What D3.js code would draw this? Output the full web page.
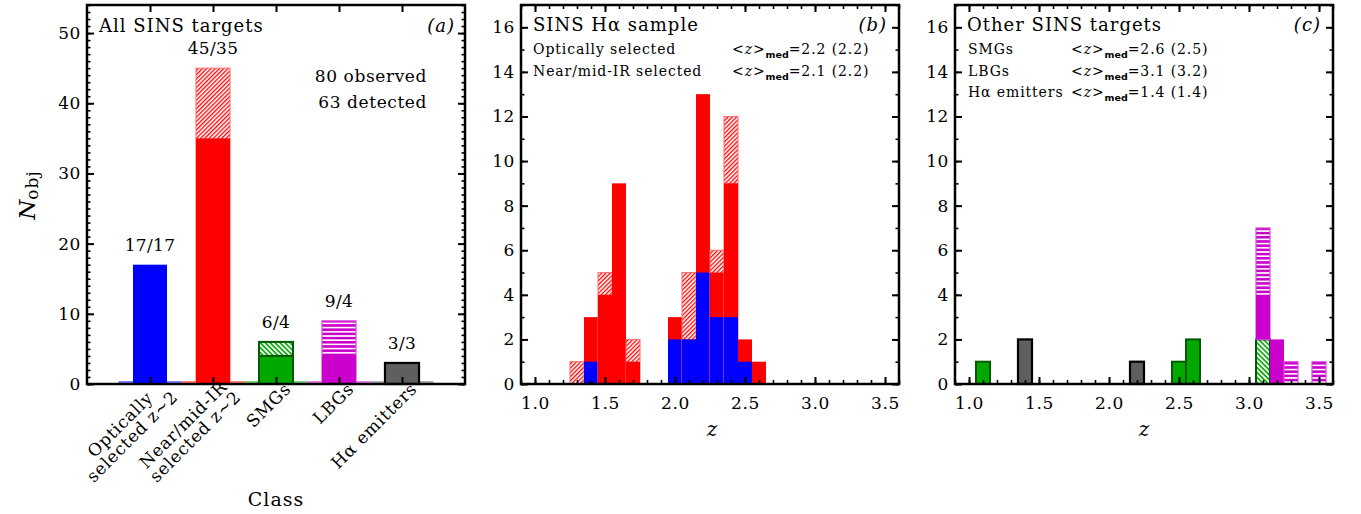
<!DOCTYPE html>
<html>
<head>
<meta charset="utf-8">
<script src="https://cdn.jsdelivr.net/npm/d3@7"></script>
<style>
  body { margin: 0; background: #fff; }
  text { font-family: "DejaVu Serif", serif; fill: #000; }
</style>
</head>
<body>
<svg id="chart" width="1361" height="514"></svg>
<script>
// ---- data ----
const classNames = [['Optically', 'selected z~2'], ['Near/mid-IR', 'selected z~2'], ['SMGs'], ['LBGs'], ['Hα emitters']];
const classObserved = [17, 45, 6, 9, 3];
const classDetected = [17, 35, 4, 4, 3];

// panel (b): SINS Halpha sample, bins of width 0.1
const hBins = [1.3, 1.4, 1.5, 1.6, 1.7, 2.0, 2.1, 2.2, 2.3, 2.4, 2.5, 2.6];
const hAllObserved = [1, 3, 5, 9, 2, 3, 5, 13, 6, 12, 2, 1];
const hAllDetected = [0, 3, 4, 9, 1, 3, 2, 13, 5, 9, 2, 1];
const hOptDetected = [0, 1, 0, 0, 0, 2, 2, 5, 3, 3, 1, 0];
const hSamples = ['Optically selected', 'Near/mid-IR selected'];
const hMedZ = [2.2, 2.1];
const hMedZAll = [2.2, 2.2];

// panel (c): other SINS targets
const oBins = [1.1, 1.4, 2.2, 2.5, 2.6, 3.1, 3.2, 3.3, 3.5];
const smgObserved = [1, 0, 0, 1, 2, 2, 0, 0, 0];
const smgDetected = [1, 0, 0, 1, 2, 0, 0, 0, 0];
const lbgObserved = [0, 0, 0, 0, 0, 5, 2, 1, 1];
const lbgDetected = [0, 0, 0, 0, 0, 2, 2, 0, 0];
const haeObserved = [0, 2, 1, 0, 0, 0, 0, 0, 0];
const oSamples = ['SMGs', 'LBGs', 'Hα emitters'];
const oMedZ = [2.6, 3.1, 1.4];
const oMedZAll = [2.5, 3.2, 1.4];

const yTicksA = [0, 10, 20, 30, 40, 50];
const yTicksZ = [0, 2, 4, 6, 8, 10, 12, 14, 16];
const xTicksZ = [1.0, 1.5, 2.0, 2.5, 3.0, 3.5];

// ---- layout ----
const P = { lefts: [87, 521, 955], top: 5, w: 378, h: 379 };
const col = {
	blue: '#0000ff', red: '#ff0000', green: '#00a800', darkGreen: '#005a00',
	magenta: '#cc00cc', gray: '#5f5f5f',
};
const binW = 0.1;

const svg = d3.select('#chart');
const defs = svg.append('defs');

// hatch patterns
const stripes = (id, color, size, stroke, angle) => {
	const p = defs.append('pattern')
		.attr('id', id)
		.attr('patternUnits', 'userSpaceOnUse')
		.attr('width', size).attr('height', size)
		.attr('patternTransform', `rotate(${angle})`);
	p.append('rect').attr('width', size).attr('height', size).attr('fill', '#fff');
	p.append('rect').attr('width', size).attr('height', stroke).attr('fill', color);
};
stripes('hatchRed', col.red, 3, 1.3, -45);
stripes('hatchGreen', col.green, 3.5, 1.6, 45);
stripes('hatchMag', col.magenta, 4.2, 2.6, 0);

const rect = (g, x0, x1, y0, y1, fill, stroke, sw) => g.append('rect')
	.attr('x', Math.min(x0, x1)).attr('width', Math.abs(x1 - x0))
	.attr('y', Math.min(y0, y1)).attr('height', Math.abs(y1 - y0))
	.attr('fill', fill)
	.attr('stroke', stroke || 'none')
	.attr('stroke-width', sw || 0);

// axes on all four sides, ticks pointing inward
const frame = (g, x, y, opt) => {
	const axis = (gen, tr, vals, size, fmt, pad) => {
		const a = g.append('g').attr('transform', tr)
			.call(gen.tickValues(vals).tickSize(-size).tickPadding(pad || 0).tickFormat(fmt || ''));
		a.select('.domain').remove();
		a.selectAll('line').attr('stroke', '#000').attr('stroke-width', size > 4 ? 2 : 1.6);
		a.selectAll('text')
			.style('font-family', '"DejaVu Serif", serif')
			.style('font-size', '17px')
			.style('letter-spacing', '0.6px')
			.attr('fill', '#000');
		return a;
	};
	axis(d3.axisBottom(x), `translate(0,${P.h})`, opt.xMinor, 4);
	axis(d3.axisBottom(x), `translate(0,${P.h})`, opt.xMajor, 7, opt.xFmt, 13);
	axis(d3.axisTop(x), 'translate(0,0)', opt.xMinor, 4);
	axis(d3.axisTop(x), 'translate(0,0)', opt.xMajor, 7);
	axis(d3.axisLeft(y), 'translate(0,0)', opt.yMinor, 3.5);
	axis(d3.axisLeft(y), 'translate(0,0)', opt.yMajor, 7, d3.format('d'), 6);
	axis(d3.axisRight(y), `translate(${P.w},0)`, opt.yMinor, 3.5);
	axis(d3.axisRight(y), `translate(${P.w},0)`, opt.yMajor, 7);
	g.append('rect').attr('width', P.w).attr('height', P.h)
		.attr('fill', 'none').attr('stroke', '#000').attr('stroke-width', 2.5);
};

const label = (g, x, y, str, o = {}) => g.append('text')
	.attr('x', x).attr('y', y)
	.attr('text-anchor', o.anchor || 'start')
	.style('font-size', (o.size || 17) + 'px')
	.style('font-style', o.italic ? 'italic' : 'normal')
	.style('letter-spacing', (o.ls == null ? 0.8 : o.ls) + 'px')
	.text(str);

const medText = (g, x, y, v, vAll) => {
	const t = g.append('text').attr('x', x).attr('y', y)
		.style('font-size', '14px').style('letter-spacing', '0.9px');
	t.append('tspan').text('<');
	t.append('tspan').style('font-style', 'italic').text('z');
	t.append('tspan').text('>');
	t.append('tspan').attr('dy', 4)
		.style('font-family', '"DejaVu Sans", sans-serif').style('font-weight', 'bold')
		.style('font-size', '9.5px').style('letter-spacing', '0px').text('med');
	t.append('tspan').attr('dy', -4).text(`=${v.toFixed(1)} (${vAll.toFixed(1)})`);
};

/* ---------- panel (a) ---------- */
const ga = svg.append('g').attr('transform', `translate(${P.lefts[0]},${P.top})`);
const xa = d3.scaleLinear().domain([0, 6]).range([0, P.w]);
const ya = d3.scaleLinear().domain([0, 54]).range([P.h, 0]);
const classStyle = [
	{ fill: col.blue },
	{ fill: col.red, hatch: 'url(#hatchRed)', hStroke: '#ff6a6a', hSw: 1 },
	{ fill: col.green, hatch: 'url(#hatchGreen)', stroke: col.darkGreen, sw: 2, hStroke: col.darkGreen, hSw: 2 },
	{ fill: col.magenta, hatch: 'url(#hatchMag)', hStroke: '#d850d8', hSw: 1.2 },
	{ fill: col.gray, stroke: '#000', sw: 2.2 },
];
const barHalf = 0.27;

classObserved.forEach((obs, i) => {
	const c = i + 1, s = classStyle[i];
	// thin coloured base line of each histogram cell
	ga.append('line')
		.attr('x1', xa(c - 0.5)).attr('x2', xa(c + 0.5))
		.attr('y1', P.h - 2).attr('y2', P.h - 2)
		.attr('stroke', s.fill).attr('stroke-width', 1.2);
	if (obs > classDetected[i]) {
		rect(ga, xa(c - barHalf), xa(c + barHalf), ya(0), ya(obs), s.hatch, s.hStroke, s.hSw);
	}
	rect(ga, xa(c - barHalf), xa(c + barHalf), ya(0), ya(classDetected[i]), s.fill, s.stroke, s.sw);
	label(ga, xa(c), ya(obs) - 14, `${obs}/${classDetected[i]}`, { anchor: 'middle', ls: 0.3 });
});

frame(ga, xa, ya, {
	xMajor: [1, 2, 3, 4, 5], xMinor: [],
	yMajor: yTicksA, yMinor: d3.range(0, 55, 1),
});

label(ga, 12, 27, 'All SINS targets', { size: 18, ls: 1 });
label(ga, P.w - 10, 27, '(a)', { size: 18, italic: true, anchor: 'end', ls: 1 });
label(ga, 340, 77, `${d3.sum(classObserved)} observed`, { anchor: 'end', ls: 0.6 });
label(ga, 340, 103, `${d3.sum(classDetected)} detected`, { anchor: 'end', ls: 0.6 });

// rotated class names
classNames.forEach((lines, i) => {
	const two = lines.length === 2;
	const g = ga.append('g')
		.attr('transform', `translate(${xa(i + 1) + (two ? 29 : 16)},${two ? 393 : 385}) rotate(-45)`);
	const last = label(g, 0, 0, lines[lines.length - 1], { anchor: 'end', ls: 0.8 });
	if (two) {
		const first = label(g, 0, -17, lines[0], { anchor: 'end', ls: 0.8 });
		const shift = (last.node().getComputedTextLength() - first.node().getComputedTextLength()) / 2;
		first.attr('x', -shift);
	}
});
label(ga, P.w / 2, 501, 'Class', { anchor: 'middle', size: 19, ls: 1 });

const yl = ga.append('text')
	.attr('transform', `translate(-52,${190}) rotate(-90)`)
	.attr('text-anchor', 'middle');
yl.append('tspan').style('font-style', 'italic').style('font-size', '23px').text('N');
yl.append('tspan').attr('dy', 3).style('font-size', '17px').style('letter-spacing', '1px').text('obj');

/* ---------- panels (b) and (c) ---------- */
const xz = d3.scaleLinear().domain([0.9, 3.6]).range([0, P.w]);
const yz = d3.scaleLinear().domain([0, 17]).range([P.h, 0]);
const zFrame = {
	xMajor: xTicksZ, xMinor: d3.range(9, 37).map(v => v / 10), xFmt: d3.format('.1f'),
	yMajor: yTicksZ, yMinor: d3.range(0, 18, 1),
};

const gb = svg.append('g').attr('transform', `translate(${P.lefts[1]},${P.top})`);
hBins.forEach((z, i) => {
	const x0 = xz(z - binW / 2), x1 = xz(z + binW / 2);
	if (hAllObserved[i] > hAllDetected[i]) {
		rect(gb, x0, x1, yz(0), yz(hAllObserved[i]), 'url(#hatchRed)', '#ff6a6a', 1);
	}
	if (hAllDetected[i] > 0) rect(gb, x0, x1, yz(0), yz(hAllDetected[i]), col.red);
	if (hOptDetected[i] > 0) rect(gb, x0, x1, yz(0), yz(hOptDetected[i]), col.blue);
});
frame(gb, xz, yz, zFrame);
label(gb, 12, 26, 'SINS Hα sample', { size: 18, ls: 1 });
label(gb, P.w - 12, 26, '(b)', { size: 18, italic: true, anchor: 'end', ls: 1 });
hSamples.forEach((s, i) => {
	const y = 49 + i * 21.5;
	label(gb, 12, y, s, { size: 14, ls: 0.9 });
	medText(gb, 211, y, hMedZ[i], hMedZAll[i]);
});
label(gb, P.w / 2 + 2, 431, 'z', { anchor: 'middle', size: 20, italic: true, ls: 0 });

const gc = svg.append('g').attr('transform', `translate(${P.lefts[2]},${P.top})`);
oBins.forEach((z, i) => {
	const x0 = xz(z - binW / 2), x1 = xz(z + binW / 2);
	const s = smgObserved[i], sd = smgDetected[i];
	const l = lbgObserved[i], ld = lbgDetected[i];
	if (s > sd) rect(gc, x0, x1, yz(0), yz(s), 'url(#hatchGreen)', col.darkGreen, 2);
	if (sd > 0) rect(gc, x0, x1, yz(0), yz(sd), col.green, col.darkGreen, 2);
	if (l > ld) rect(gc, x0, x1, yz(s), yz(s + l), 'url(#hatchMag)', '#d850d8', 1.2);
	if (ld > 0) rect(gc, x0, x1, yz(s), yz(s + ld), col.magenta);
	if (haeObserved[i] > 0) rect(gc, x0, x1, yz(0), yz(haeObserved[i]), col.gray, '#000', 2.2);
});
frame(gc, xz, yz, zFrame);
label(gc, 12, 26, 'Other SINS targets', { size: 18, ls: 1 });
label(gc, P.w - 12, 26, '(c)', { size: 18, italic: true, anchor: 'end', ls: 1 });
oSamples.forEach((s, i) => {
	const y = 49 + i * 21.5;
	label(gc, 13, y, s, { size: 14, ls: 0.9 });
	medText(gc, 116, y, oMedZ[i], oMedZAll[i]);
});
label(gc, P.w / 2, 431, 'z', { anchor: 'middle', size: 20, italic: true, ls: 0 });
</script>
</body>
</html>
